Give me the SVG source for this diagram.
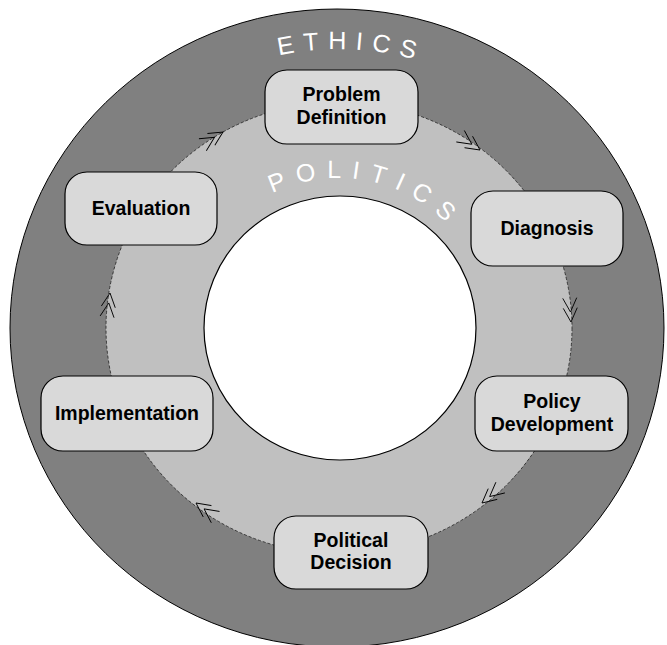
<svg xmlns="http://www.w3.org/2000/svg" xmlns:xlink="http://www.w3.org/1999/xlink" width="667" height="645" viewBox="0 0 667 645">
  <style>
    .node rect { fill: #d9d9d9; stroke: #000; stroke-width: 1.2; }
    .node text { font-family: "Liberation Sans", Arial, sans-serif; font-weight: bold; font-size: 19.5px; fill: #000; text-anchor: middle; }
    .ring { font-family: "Liberation Sans", Arial, sans-serif; font-size: 25px; fill: #fff; }
    .chev { fill: none; stroke: #000; stroke-width: 0.9; }
  </style>
  <defs>
    <path id="ethicsArc" d="M 159.7 114.3 A 279 279 0 0 1 518.3 114.3" fill="none"/>
    <path id="politicsArc" d="M 209.1 253 A 150 150 0 0 1 468.9 253" fill="none"/>
    <path id="chevron" class="chev" d="M -24 -7 L -10 0 L -24 7 M -14 -7 L 0 0 L -14 7"/>
  </defs>

  <rect width="667" height="645" fill="#fff"/>

  <g id="rings">
    <ellipse cx="337" cy="328" rx="327" ry="319" fill="#808080" stroke="#000" stroke-width="1"/>
    <ellipse cx="339" cy="328" rx="233" ry="226" fill="#c0c0c0"/>
    <ellipse cx="340" cy="328" rx="136" ry="132" fill="#fff" stroke="#000" stroke-width="1.2"/>
    <text class="ring" letter-spacing="9"><textPath xlink:href="#ethicsArc" startOffset="134">ETHICS</textPath></text>
    <text class="ring" letter-spacing="10.5"><textPath xlink:href="#politicsArc" startOffset="88">POLITICS</textPath></text>
  </g>

  <g id="connectors">
    <ellipse cx="339" cy="328" rx="233" ry="226" fill="none" stroke="#222" stroke-width="0.8" stroke-dasharray="3 2"/>
    <use xlink:href="#chevron" transform="translate(480,150) rotate(35)"/>
    <use xlink:href="#chevron" transform="translate(571,322) rotate(87)"/>
    <use xlink:href="#chevron" transform="translate(482,503) rotate(140)"/>
    <use xlink:href="#chevron" transform="translate(196,503) rotate(216)"/>
    <use xlink:href="#chevron" transform="translate(110,293) rotate(277)"/>
    <use xlink:href="#chevron" transform="translate(223,132) rotate(328)"/>
  </g>

  <g id="problem-definition" class="node">
    <rect x="265" y="70" width="153" height="74" rx="22"/>
    <text x="341.5" y="101">Problem</text>
    <text x="341.5" y="124">Definition</text>
  </g>
  <g id="diagnosis" class="node">
    <rect x="471" y="191" width="152" height="75" rx="22"/>
    <text x="547" y="235">Diagnosis</text>
  </g>
  <g id="policy-development" class="node">
    <rect x="475" y="376" width="153" height="75" rx="22"/>
    <text x="552" y="408">Policy</text>
    <text x="552" y="431">Development</text>
  </g>
  <g id="political-decision" class="node">
    <rect x="274" y="516" width="154" height="73" rx="22"/>
    <text x="351" y="547">Political</text>
    <text x="351" y="569">Decision</text>
  </g>
  <g id="implementation" class="node">
    <rect x="41" y="376" width="172" height="75" rx="22"/>
    <text x="127" y="420">Implementation</text>
  </g>
  <g id="evaluation" class="node">
    <rect x="65" y="172" width="152" height="73" rx="22"/>
    <text x="141" y="215">Evaluation</text>
  </g>
</svg>
